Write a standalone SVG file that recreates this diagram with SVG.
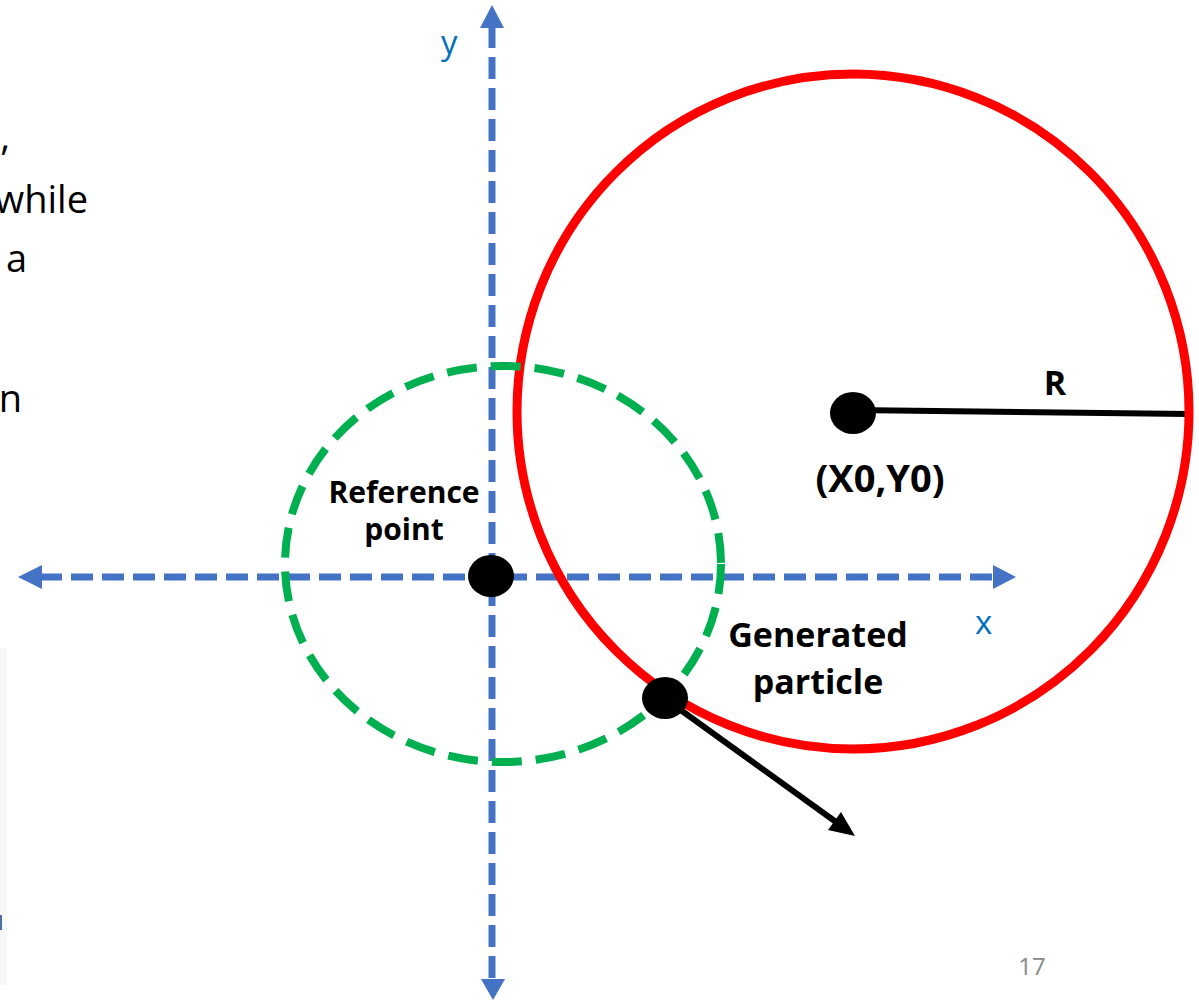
<svg xmlns="http://www.w3.org/2000/svg" width="1199" height="1000" viewBox="0 0 1199 1000">
<style>
.axis{stroke:#4472C4;stroke-width:7;fill:none;stroke-dasharray:22 9}
.ahead{fill:#4472C4}
.lbl{font-family:"Open Sans","Liberation Sans",sans-serif;font-weight:bold;fill:#000}
.axl{font-family:"Open Sans","Liberation Sans",sans-serif;fill:#0070C0;font-size:33px}
.side{font-family:"Open Sans","Liberation Sans",sans-serif;fill:#000;font-size:38px}
.dot{fill:#000}
</style>
<rect width="1199" height="1000" fill="#fff"/>
<g id="side-text">
<rect x="0" y="648" width="7" height="337" fill="#f8f8f8"/>
<rect x="0" y="915" width="2" height="15" fill="#4a6fa5"/>
<text class="side" x="10" y="150" text-anchor="end">,</text>
<text class="side" x="88" y="213" text-anchor="end">while</text>
<text class="side" x="27" y="272" text-anchor="end">a</text>
<text class="side" x="22" y="412" text-anchor="end">n</text>
</g>
<g id="connectors">
<line class="axis" x1="492" y1="26" x2="492" y2="980"/>
<polygon class="ahead" points="492,5 504,28 480,28"/>
<polygon class="ahead" points="493,1000 505,979 481,979"/>
<line class="axis" x1="40" y1="577" x2="995" y2="577"/>
<polygon class="ahead" points="18,577 42,565 42,589"/>
<polygon class="ahead" points="1016,577 993,565 993,589"/>
<line x1="852" y1="410" x2="1189" y2="414" stroke="#000" stroke-width="6"/>
<line x1="664" y1="698" x2="836" y2="822" stroke="#000" stroke-width="6"/>
<polygon points="855,836 828,830 841,812" fill="#000"/>
</g>
<g id="red-circle">
<ellipse cx="853" cy="411.5" rx="336" ry="337.5" fill="none" stroke="#FF0000" stroke-width="9"/>
</g>
<g id="green-circle">
<ellipse cx="503" cy="564" rx="218" ry="198" fill="none" stroke="#00B050" stroke-width="8" stroke-dasharray="30 14"/>
</g>
<g id="y-label"><text class="axl" x="441" y="54">y</text></g>
<g id="x-label"><text class="axl" x="975" y="634">x</text></g>
<g id="reference-point">
<ellipse class="dot" cx="491" cy="576" rx="23" ry="21"/>
<text class="lbl" font-size="30" x="404" y="503" text-anchor="middle">Reference</text>
<text class="lbl" font-size="30" x="404" y="540" text-anchor="middle">point</text>
</g>
<g id="center">
<ellipse class="dot" cx="853" cy="413" rx="23" ry="21"/>
<text class="lbl" font-size="38" x="880" y="492" text-anchor="middle">(X0,Y0)</text>
<text class="lbl" font-size="34" x="1055" y="395" text-anchor="middle">R</text>
</g>
<g id="generated-particle">
<ellipse class="dot" cx="665" cy="698" rx="23" ry="21"/>
<text class="lbl" font-size="34" x="818" y="647" text-anchor="middle">Generated</text>
<text class="lbl" font-size="34" x="818" y="694" text-anchor="middle">particle</text>
</g>
<g id="page-number"><text x="1032" y="975" text-anchor="middle" font-family="Open Sans, Liberation Sans, sans-serif" font-size="24" fill="#888">17</text></g>
</svg>
